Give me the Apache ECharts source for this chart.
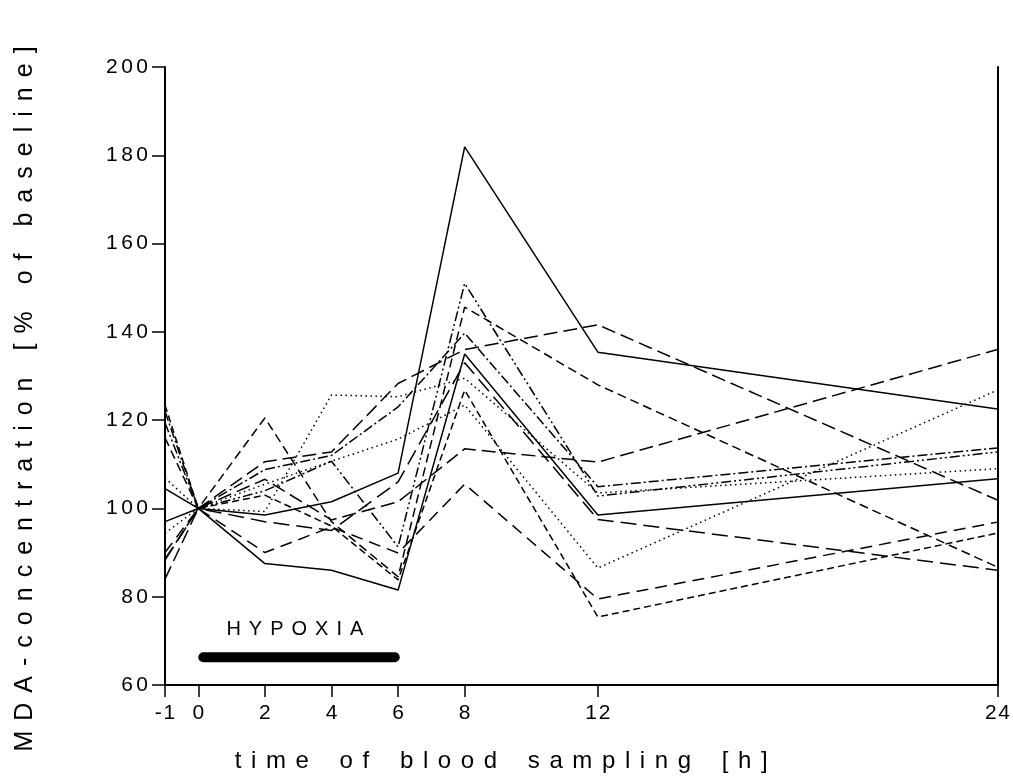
<!DOCTYPE html>
<html>
<head>
<meta charset="utf-8">
<script src="https://cdn.jsdelivr.net/npm/echarts@6/dist/echarts.min.js"></script>
<style>
  html, body { margin: 0; padding: 0; background: #fff; }
  #chart { width: 1013px; height: 779px; }
</style>
</head>
<body>
<div id="chart"></div>
<script>
// sampling times [h]
const hours = [-1, 0, 2, 4, 6, 8, 12, 24];
const xTicks = [-1, 0, 2, 4, 6, 8, 12, 24];

// MDA concentration [% of baseline], one array per subject
const subjectA = [104.5, 100, 98.5, 101.5, 108, 181.9, 135.4, 122.5];
const subjectB = [97, 100, 87.5, 86, 81.5, 135, 98.5, 106.7];
const subjectC = [88.5, 100, 110.6, 112.8, 128.3, 136, 141.6, 101.9];
const subjectD = [116, 100, 120.5, 97, 84.5, 145.6, 128, 86.7];
const subjectE = [84, 100, 106.6, 97.4, 101.5, 113.5, 110.5, 136];
const subjectF = [90, 100, 90, 95.8, 89.9, 105.5, 79.5, 96.9];
const subjectG = [106.9, 100, 99.3, 125.7, 125.3, 129.5, 103.5, 109];
const subjectH = [123.4, 100, 103, 96, 83.8, 126.8, 75.4, 94.4];
const subjectI = [119.4, 100, 104, 110.7, 91.3, 151, 102.8, 112.8];
const subjectJ = [122, 100, 108.8, 112, 123, 139.7, 104.9, 113.7];
const subjectK = [94.4, 100, 105.5, 110.7, 115.7, 123.4, 86.5, 126.8];
const subjectL = [88.3, 100, 97, 95, 106, 133, 97.5, 86];

// hypoxia period bar
const hypoxiaBar = [[0.15, 66.3], [5.9, 66.3]];
const hypoxiaLabel = [[2.9, 72.6]];

const spaced = (s, gap, wordGap) => s.split(' ').map(w => w.split('').join(gap)).join(wordGap);

const subjects = [
  { data: subjectA, dash: 'solid' },
  { data: subjectB, dash: 'solid' },
  { data: subjectC, dash: [14, 6] },
  { data: subjectD, dash: [9, 5] },
  { data: subjectE, dash: [14, 6] },
  { data: subjectF, dash: [12, 7] },
  { data: subjectG, dash: [1.5, 3.5] },
  { data: subjectH, dash: [7, 4] },
  { data: subjectI, dash: [10, 3, 2, 3, 2, 3] },
  { data: subjectJ, dash: [10, 3, 2, 3] },
  { data: subjectK, dash: [1.5, 3.5] },
  { data: subjectL, dash: [16, 7] }
];

const series = subjects.map((s, i) => ({
  name: 'S' + (i + 1),
  type: 'line',
  data: hours.map((h, j) => [h, s.data[j]]),
  symbol: 'none',
  silent: true,
  lineStyle: { color: '#000', width: 1.5, type: s.dash }
}));

series.push({
  name: 'hypoxia',
  type: 'line',
  data: hypoxiaBar,
  symbol: 'none',
  silent: true,
  lineStyle: { color: '#000', width: 10, cap: 'round' }
});

series.push({
  name: 'hypoxiaLabel',
  type: 'scatter',
  data: hypoxiaLabel,
  symbolSize: 0,
  silent: true,
  itemStyle: { opacity: 1 },
  label: {
    show: true,
    position: 'inside',
    formatter: spaced('HYPOXIA', '\u2009\u2009', ' '),
    color: '#000',
    fontSize: 20
  }
});

const chart = echarts.init(document.getElementById('chart'), null, { renderer: 'canvas' });

const option = {
  animation: false,
  backgroundColor: '#fff',
  textStyle: { fontFamily: 'Liberation Sans', color: '#000' },
  grid: { left: 165, right: 15, top: 67, bottom: 94 },
  xAxis: {
    type: 'value',
    min: -1,
    max: 24,
    name: spaced('time of blood sampling [h]', '\u2009\u2009', '\u2009\u2009 \u2009\u2009\u2009'),
    nameLocation: 'middle',
    nameGap: 64,
    nameTextStyle: { fontSize: 24, color: '#000', padding: [0, 160, 0, 0] },
    axisLine: { show: true, onZero: false, lineStyle: { color: '#000', width: 2 } },
    axisTick: { show: true, length: 12, customValues: xTicks, lineStyle: { color: '#000', width: 1.5 } },
    axisLabel: {
      customValues: xTicks,
      margin: 18,
      fontSize: 21,
      color: '#000',
      formatter: v => String(v).split('').join('\u200A')
    },
    splitLine: { show: false }
  },
  yAxis: [
    {
      type: 'value',
      min: 60,
      max: 200,
      interval: 20,
      name: spaced('MDA-concentration [% of baseline]', '\u2009\u2009', '\u2009\u2009 \u2009\u2009'),
      nameLocation: 'middle',
      nameRotate: 90,
      nameGap: 127,
      nameTextStyle: { fontSize: 25, color: '#000', padding: [0, 46, 0, 0] },
      axisLine: { show: true, onZero: false, lineStyle: { color: '#000', width: 2 } },
      axisTick: { show: true, length: 13, lineStyle: { color: '#000', width: 1.5 } },
      axisLabel: {
        margin: 17,
        fontSize: 21,
        color: '#000',
        formatter: v => String(v).split('').join('\u200A\u200A')
      },
      splitLine: { show: false }
    },
    {
      type: 'value',
      position: 'right',
      min: 60,
      max: 200,
      interval: 20,
      axisLine: { show: true, onZero: false, lineStyle: { color: '#000', width: 2 } },
      axisTick: { show: false },
      axisLabel: { show: false },
      splitLine: { show: false }
    }
  ],
  series: series
};

chart.setOption(option);
</script>
</body>
</html>
